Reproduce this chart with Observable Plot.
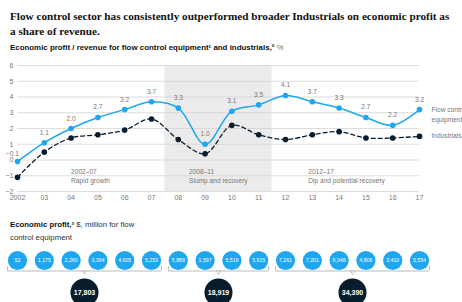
<!DOCTYPE html>
<html>
<head>
<meta charset="utf-8">
<script src="https://cdn.jsdelivr.net/npm/d3@7"></script>
<script src="https://cdn.jsdelivr.net/npm/@observablehq/plot@0.6"></script>
<style>
  body { margin:0; background:#fff; width:462px; height:302px; overflow:hidden; position:relative; font-family:"Liberation Sans", Arial, sans-serif; }
  #title { position:absolute; left:10px; top:9px; width:450px; font-family:"Liberation Serif", serif; font-weight:bold; font-size:11.2px; line-height:15px; color:#111; white-space:nowrap; }
  #subtitle { position:absolute; left:10px; top:43px; font-size:7.9px; font-weight:bold; color:#111; white-space:nowrap; }
  #subtitle .unit { font-weight:normal; color:#777; }
  #chart { position:absolute; left:0; top:55px; }
  #note { position:absolute; left:10px; top:218px; font-size:7.8px; line-height:13px; color:#333; white-space:nowrap; }
  #note b { color:#111; }
  #bubbles { position:absolute; left:0; top:245px; }
  svg { overflow:visible; }
</style>
</head>
<body>
<div id="title">Flow control sector has consistently outperformed broader Industrials on economic profit as<br>a share of revenue.</div>
<div id="subtitle">Economic profit / revenue for flow control equipment¹ and industrials,² <span class="unit">%</span></div>
<div id="chart"></div>
<div id="note"><b>Economic profit,³</b> $, million for flow<br>control equipment</div>
<div id="bubbles"></div>
<script>
const years = [2002,2003,2004,2005,2006,2007,2008,2009,2010,2011,2012,2013,2014,2015,2016,2017];
const yearLabels = ["2002","03","04","05","06","07","08","09","10","11","12","13","14","15","16","17"];
const flowControl = [-0.1,1.1,2.0,2.7,3.2,3.7,3.3,1.0,3.1,3.5,4.1,3.7,3.3,2.7,2.2,3.2];
const industrials = [-1.1,0.5,1.4,1.6,1.9,2.6,1.3,0.4,2.2,1.6,1.3,1.6,1.8,1.4,1.4,1.5];
const yTicks = [-2,-1,0,1,2,3,4,5,6];
const periodStart = [2002,2008,2012];
const periodEnd = [2007,2011,2017];
const periodRange = ["2002–07","2008–11","2012–17"];
const periodName = ["Rapid growth","Slump and recovery","Dip and potential recovery"];
const economicProfit = [52,1175,2260,3364,4605,5253,5889,1597,5519,5915,7261,7201,6048,4806,3410,5554];
const periodTotals = [17803,18919,34390];

const BLUE = "#1ea6f0", NAVY = "#071d2e", GREY = "#777";
const flowData = years.map((year,i)=>({year, value:flowControl[i]}));
const indData = years.map((year,i)=>({year, value:industrials[i]}));
const periods = periodStart.map((start,i)=>({start, end:periodEnd[i], range:periodRange[i], name:periodName[i], total:periodTotals[i]}));
const fmt1 = d3.format(".1f");
const xDomain = [years[0], years[years.length-1]];

// period annotation anchors (in data units)
const annot = [
  {x: 2004, y: -0.45, text: periods[0].range + "\n" + periods[0].name},
  {x: 2008.4, y: -0.45, text: periods[1].range + "\n" + periods[1].name},
  {x: 2012.85, y: -0.45, text: periods[2].range + "\n" + periods[2].name}
];

const chart = Plot.plot({
  width: 462, height: 150,
  marginTop: 10, marginBottom: 14, marginLeft: 17, marginRight: 43,
  style: {fontFamily: '"Liberation Sans", Arial, sans-serif', background: "transparent", overflow: "visible"},
  x: {domain: xDomain, axis: null},
  y: {domain: [-2, 6], axis: null},
  marks: [
    Plot.rect([periods[1]], {x1: d=>d.start-0.5, x2: d=>d.end+0.5, y1: ()=>-2, y2: ()=>6, fill: "#ebebeb"}),
    Plot.ruleY(yTicks, {stroke: "#d4d4d4", strokeWidth: 0.8}),
    Plot.axisY({ticks: yTicks, tickSize: 0, tickPadding: 4, fontSize: 7, color: GREY, tickFormat: d => d < 0 ? "−" + Math.abs(d) : String(d)}),
    Plot.axisX({ticks: years, tickSize: 0, tickPadding: 4, fontSize: 7, color: GREY, tickFormat: d => yearLabels[years.indexOf(d)]}),
    Plot.text(annot, {x: "x", y: "y", text: "text", textAnchor: "start", lineAnchor: "top", lineHeight: 1.45, fontSize: 6.6, fill: GREY}),
    Plot.line(indData, {x: "year", y: "value", stroke: NAVY, strokeWidth: 1.3, strokeDasharray: "4,3", curve: "catmull-rom"}),
    Plot.dot(indData, {x: "year", y: "value", fill: NAVY, r: 2.8}),
    Plot.line(flowData, {x: "year", y: "value", stroke: BLUE, strokeWidth: 1.5, curve: "catmull-rom"}),
    Plot.dot(flowData, {x: "year", y: "value", fill: BLUE, r: 2.8}),
    Plot.text(flowData.slice(1), {x: "year", y: "value", text: d => fmt1(d.value), dy: -8, lineAnchor: "bottom", fontSize: 6.6, fill: GREY}),
    Plot.text(flowData.slice(0,1), {x: "year", y: "value", text: d => fmt1(d.value), dy: -6, dx: -5, lineAnchor: "bottom", fontSize: 6.6, fill: GREY}),
    Plot.text(flowData.slice(-1), {x: "year", y: "value", text: () => "Flow control\nequipment", dx: 12, dy: -5, textAnchor: "start", lineAnchor: "top", lineHeight: 1.5, fontSize: 6.6, fill: GREY}),
    Plot.text(indData.slice(-1), {x: "year", y: "value", text: () => "Industrials", dx: 12, dy: -1, textAnchor: "start", fontSize: 6.6, fill: GREY})
  ]
});
document.getElementById("chart").append(chart);

const profitData = years.map((year,i)=>({year, value:economicProfit[i]}));
const pad = 0.37;
const ends = periods.flatMap(p => [{x: p.start - pad}, {x: p.end + pad}]);
const fmtC = d3.format(",");

const bubbles = Plot.plot({
  width: 462, height: 70,
  marginTop: 0, marginBottom: 0, marginLeft: 17, marginRight: 43,
  style: {fontFamily: '"Liberation Sans", Arial, sans-serif', background: "transparent", overflow: "visible"},
  x: {domain: xDomain, axis: null},
  y: {type: "point", domain: ["annual", "total"], range: [15, 47], padding: 0, axis: null},
  marks: [
    Plot.ruleY(periods, {y: () => "annual", x1: d => d.start - pad, x2: d => d.end + pad, dy: 10.5, stroke: "#aaa", strokeWidth: 0.8}),
    Plot.ruleX(ends, {x: "x", y1: () => "annual", y2: () => "annual", insetTop: 6, insetBottom: -10.5, stroke: "#aaa", strokeWidth: 0.8}),
    Plot.dot(periods, {x: d => (d.start + d.end) / 2, y: () => "annual", dy: 11.6, symbol: "triangle", rotate: 180, r: 1.5, fill: "white", stroke: "#aaa", strokeWidth: 0.7}),
    Plot.dot(profitData, {x: "year", y: () => "annual", r: 9.6, fill: BLUE}),
    Plot.text(profitData, {x: "year", y: () => "annual", text: d => fmtC(d.value), fill: "white", fontSize: 5.2}),
    Plot.dot(periods, {x: d => (d.start + d.end) / 2, y: () => "total", r: 14, fill: NAVY}),
    Plot.text(periods, {x: d => (d.start + d.end) / 2, y: () => "total", text: d => fmtC(d.total), fill: "white", fontSize: 7, fontWeight: "bold"})
  ]
});
document.getElementById("bubbles").append(bubbles);
</script>
</body>
</html>
